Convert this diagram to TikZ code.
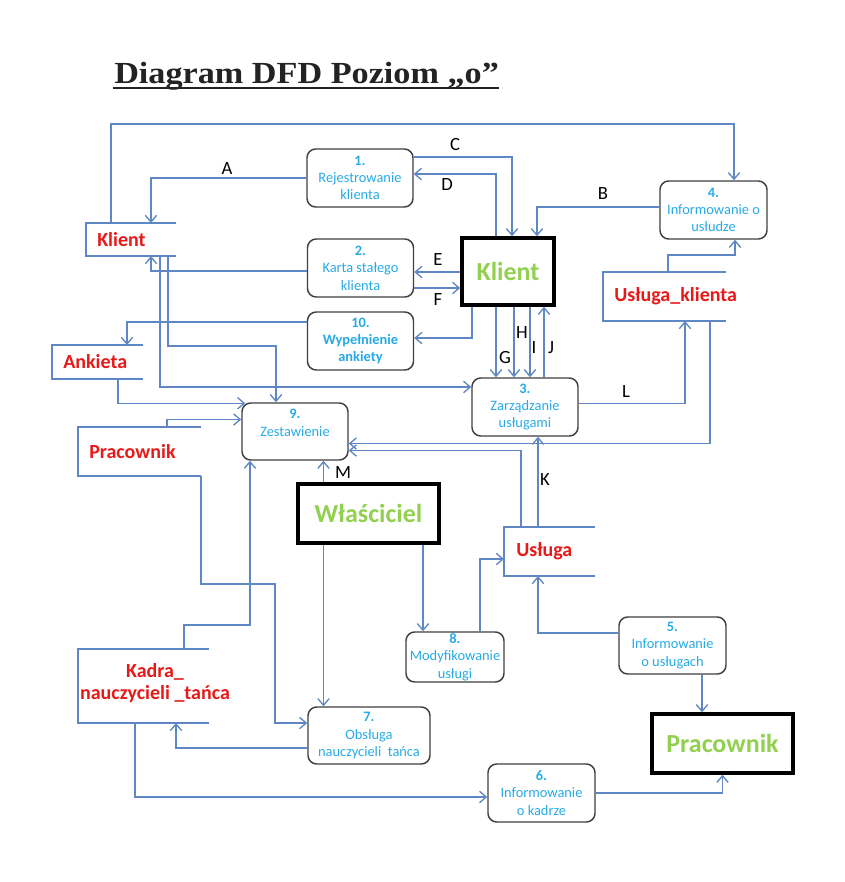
\documentclass[tikz,border=0pt]{standalone}
\usepackage{fontspec}
\usepackage{graphicx}
\setmainfont{Carlito}
\newfontfamily\titlefont{Liberation Serif}
\usetikzlibrary{arrows.meta,calc}
\definecolor{flowc}{RGB}{95,135,195}
\definecolor{proct}{RGB}{40,170,230}
\definecolor{entg}{RGB}{146,208,80}
\definecolor{storer}{RGB}{232,25,25}
\definecolor{procline}{RGB}{64,64,64}
\definecolor{titlec}{RGB}{35,35,35}
\begin{document}
\begin{tikzpicture}[x=0.75pt,y=-0.75pt,
 proc/.style={draw=procline, line width=1.1pt, rounded corners=6.5pt, align=center, text=proct,
   font=\fontsize{10.8}{13}\selectfont, minimum width=79.5pt, minimum height=43.5pt, inner sep=0pt},
 procbold/.style={proc, font=\fontsize{10.8}{13}\selectfont\bfseries},
 ent/.style={draw=black, line width=2.6pt, text=entg, font=\fontsize{19.5}{22}\selectfont\bfseries, inner sep=0pt},
 storebox/.style={inner sep=0pt, outer sep=0pt},
 storeline/.style={draw=flowc, line width=1pt},
 storetext/.style={text=storer, font=\fontsize{15}{16.5}\selectfont\bfseries, inner sep=0pt},
 flow/.style={draw=flowc, line width=1pt, -{Straight Barb[length=5pt,width=8.5pt]}},
 lbl/.style={font=\fontsize{14}{16}\selectfont, inner sep=0pt}
]
\useasboundingbox[fill=white] (0,0) rectangle (844,882);

% title
\node[anchor=base west, inner sep=0pt, text=titlec,
  font=\titlefont\bfseries\fontsize{23}{26}\selectfont] (title) at (114,83)
  {\scalebox{1.115}[1]{Diagram DFD Poziom „o”}};
\draw[titlec, line width=1.9pt] ($(title.base west)+(-1,5)$) -- ($(title.base east)+(0,5)$);

% processes
\node[proc] (p1) at (360,178) {\textbf{1.}\\Rejestrowanie\\klienta};
\node[proc] (p2) at (360.5,268) {\textbf{2.}\\Karta stałego\\klienta};
\node[procbold] (p10) at (360.5,341) {10.\\Wypełnienie\\ankiety};
\node[proc, minimum width=80.25pt] (p4) at (713.5,210) {\textbf{4.}\\Informowanie o\\usłudze};
\node[proc] (p3) at (525,407) {\textbf{3.}\\Zarządzanie\\usługami};
\node[proc, minimum height=42.75pt] (p9) at (295,431.5) {\textbf{9.}\\Zestawienie\\\mbox{}};
\node[proc, minimum width=73.5pt, minimum height=37.5pt] (p8) at (455,657) {\textbf{8.}\\Modyfikowanie\\usługi};
\node[proc, minimum width=80.25pt, minimum height=42.75pt] (p5) at (672.5,645.5) {\textbf{5.}\\Informowanie\\o usługach};
\node[proc, minimum width=91.5pt, minimum height=42.75pt] (p7) at (369,735.5) {\textbf{7.}\\Obsługa\\nauczycieli~ tańca};
\node[proc, minimum width=80.25pt] (p6) at (541.5,793) {\textbf{6.}\\Informowanie\\o kadrze};

% external entities
\node[ent, minimum width=69pt, minimum height=50.25pt] (kl) at (508,271.5) {Klient};
\node[ent, minimum width=105.75pt, minimum height=44.25pt] (wl) at (368.5,513.5) {Właściciel};
\node[ent, minimum width=105.75pt, minimum height=44.25pt] (pr) at (722.5,743.5) {Pracownik};

% data stores
\node[storebox, minimum width=67.5pt, minimum height=24.75pt] (sKl) at (131,239.5) {};
\node[storebox, minimum width=68.25pt, minimum height=25.5pt] (sAn) at (97.5,362) {};
\node[storebox, minimum width=92.25pt, minimum height=36.75pt] (sPr) at (139.5,451.5) {};
\node[storebox, minimum width=92.25pt, minimum height=36.75pt] (sUk) at (664.5,296.5) {};
\node[storebox, minimum width=68.25pt, minimum height=36.75pt] (sUs) at (549.5,551.5) {};
\node[storebox, minimum width=98.25pt, minimum height=55.5pt] (sKa) at (143.5,686) {};
\foreach \s in {sKl,sAn,sPr,sUk,sUs,sKa}
  \draw[storeline] (\s.north east) -- (\s.north west) -- (\s.south west) -- (\s.south east);
\node[storetext, anchor=west] (tKl) at ($(sKl.west)+(11,0)$) {Klient};
\node[storetext, anchor=west] (tAn) at ($(sAn.west)+(11,0)$) {Ankieta};
\node[storetext, anchor=west] (tPr) at ($(sPr.west)+(11,0)$) {Pracownik};
\node[storetext, anchor=west] (tUk) at ($(sUk.west)+(11,0)$) {Usługa\_klienta};
\node[storetext, anchor=west] (tUs) at ($(sUs.west)+(12,0)$) {Usługa};
\node[storetext, align=center] (tKa) at (155,683) {Kadra\_\\nauczycieli \_tańca};

% connectors
\draw[flow] ($(sKl.north)+(-20,0)$) -- ++(0,-99) -| ($(p4.north)+(20.5,0)$);
\draw[flow] (p1.west) -| ($(sKl.north)+(20,0)$);
\draw[flow] ($(p1.east)+(0,-21)$) -| ($(kl.north)+(4,0)$);
\draw[flow] ($(kl.north)+(-12,0)$) |- ($(p1.east)+(0,-4)$);
\draw[flow] ($(p4.west)+(0,-3)$) -| ($(kl.north)+(29,0)$);
\draw[flow] ($(sUk.north)+(3.5,0)$) -- ++(0,-17) -| ($(p4.south)+(21.5,0)$);
\draw[flow] ($(kl.west)+(0,0.5)$) -- ($(p2.east)+(0,4)$);
\draw[flow] ($(p2.east)+(0,20)$) -- ($(kl.west)+(0,16.5)$);
\draw[flow] ($(p2.west)+(0,3)$) -| ($(sKl.south)+(20,0)$);
\draw[flow] ($(kl.south)+(-36,0)$) |- ($(p10.east)+(0,-3)$);
\draw[flow] ($(p10.west)+(0,-19)$) -| ($(sAn.north)+(29.5,0)$);
\draw[flow] ($(sKl.south)+(29,0)$) |- ($(p3.west)+(0,-20)$);
\draw[flow] ($(sKl.south)+(37,0)$) -- ++(0,90) -| ($(p9.north)+(-19,0)$);
\draw[flow] ($(sAn.south)+(20.5,0)$) |- ($(p9.north west)+(4,1)$);
\draw[flow] ($(sPr.north)+(27.5,0)$) |- ($(p9.west)+(0,-12)$);
\draw[flow] (sPr.south east) -- ++(0,108) -- ++(74,0) |- ($(p7.west)+(0,-12.5)$);
\draw[flow] ($(sKa.north)+(40.5,0)$) -- ++(0,-24) -| ($(p9.south)+(-45,0)$);
\draw[flow] ($(wl.north)+(-45,0)$) -- ($(p9.south)+(28.5,0)$);
\draw[flow] ($(wl.south)+(-45,0)$) -- ($(p7.north)+(-45.5,0)$);
\draw[flow] ($(wl.south)+(54.5,0)$) -- ($(p8.north)+(-32,0)$);
\draw[flow] ($(p8.north)+(25,0)$) |- ($(sUs.west)+(0,7.5)$);
\draw[flow] ($(p5.west)+(0,-12.5)$) -| ($(sUs.south)+(-11.5,0)$);
\draw[flow] ($(p5.south)+(29.5,0)$) -- ($(pr.north)+(-20.5,0)$);
\draw[flow] (p6.east) -| (pr.south);
\draw[flow] ($(sKa.south)+(-8.5,0)$) |- ($(p6.west)+(0,4)$);
\draw[flow] ($(p7.west)+(0,12.5)$) -| ($(sKa.south)+(32.5,0)$);
\draw[flow] ($(sUs.north)+(-11.5,0)$) -- ($(p3.south)+(13,0)$);
\draw[flow] ($(sUs.north)+(-28.5,0)$) |- ($(p9.east)+(0,19)$);
\draw[flow] ($(sUk.south)+(45.5,0)$) |- ($(p9.east)+(0,12)$);
\draw[flow] ($(p3.east)+(0,-3.5)$) -| ($(sUk.south)+(20.5,0)$);
\draw[flow] ($(kl.south)+(-12,0)$) -- ($(p3.north)+(-29,0)$);
\draw[flow] ($(kl.south)+(6,0)$) -- ($(p3.north)+(-11,0)$);
\draw[flow] ($(kl.south)+(22,0)$) -- ($(p3.north)+(5,0)$);
\draw[flow] ($(p3.north)+(19,0)$) -- ($(kl.south)+(36,0)$);

% flow labels
\node[lbl] (lA) at (227,169) {A};
\node[lbl] (lB) at (603,194) {B};
\node[lbl] (lC) at (455,145) {C};
\node[lbl] (lD) at (447,185) {D};
\node[lbl] (lE) at (438,260) {E};
\node[lbl] (lF) at (438,300) {F};
\node[lbl] (lG) at (505,358) {G};
\node[lbl] (lH) at (522,333) {H};
\node[lbl] (lI) at (534,348) {I};
\node[lbl] (lJ) at (551,348) {J};
\node[lbl] (lK) at (545,480) {K};
\node[lbl] (lL) at (626,392) {L};
\node[lbl] (lM) at (343,473) {M};
\end{tikzpicture}
\end{document}
